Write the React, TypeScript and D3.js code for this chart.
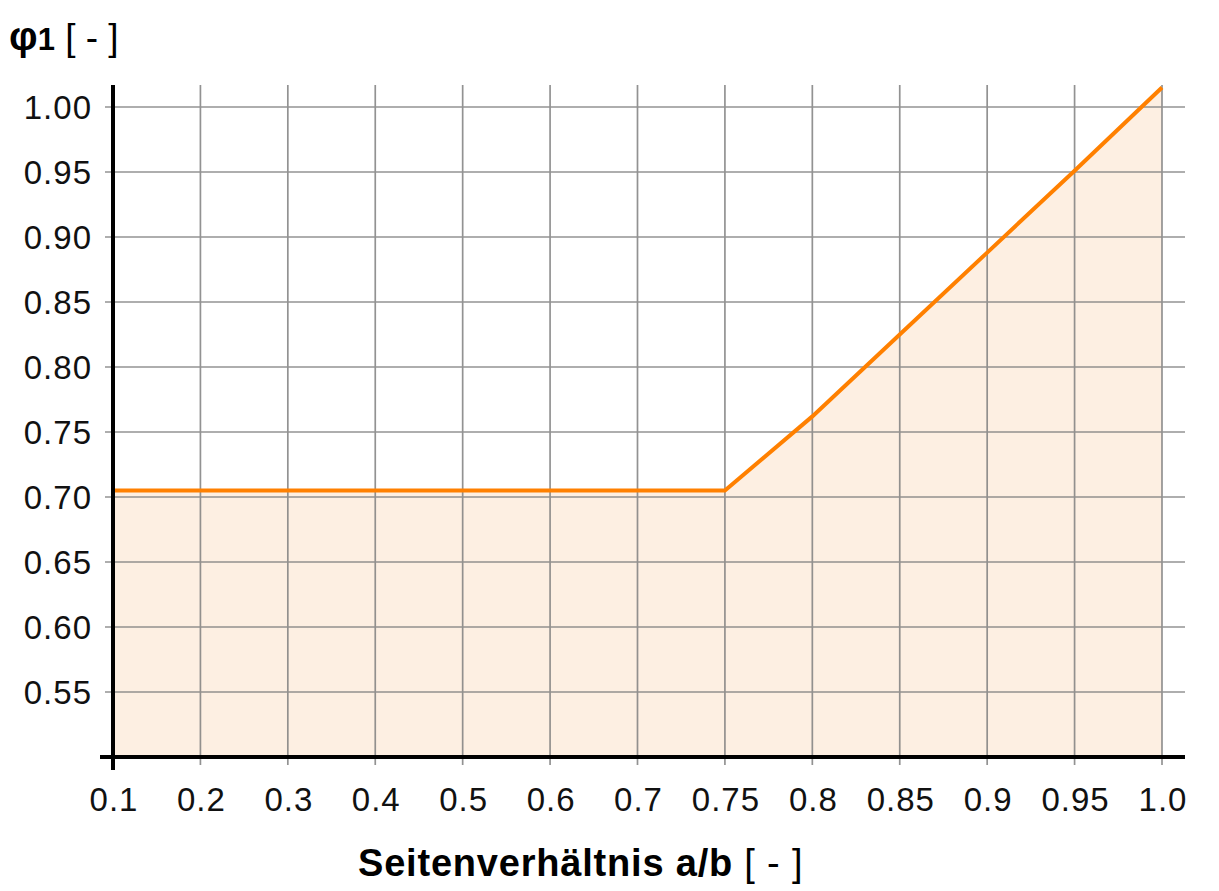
import { useEffect, useRef } from 'react';
import * as d3 from 'd3';

const categories = ['0.1', '0.2', '0.3', '0.4', '0.5', '0.6', '0.7', '0.75', '0.8', '0.85', '0.9', '0.95', '1.0'];
const phiValues = [0.705, 0.705, 0.705, 0.705, 0.705, 0.705, 0.705, 0.705, 0.762, 0.825, 0.888, 0.951, 1.015];
const yTicks = [0.55, 0.6, 0.65, 0.7, 0.75, 0.8, 0.85, 0.9, 0.95, 1.0];

const FONT = '"Liberation Sans", Arial, sans-serif';

export default function App() {
  const svgRef = useRef<SVGSVGElement>(null);

  useEffect(() => {
    if (!svgRef.current) return;
    const svg = d3.select(svgRef.current);
    svg.selectAll('*').remove();

    const left = 113;
    const right = 1162;
    const bottom = 757;

    const x = d3.scalePoint<string>().domain(categories).range([left, right]);
    const y = d3.scaleLinear().domain([0.5, 1.0]).range([bottom, 107]);
    const gridTop = y(1.017);

    const data = categories.map((c, i) => ({ c, v: phiValues[i] }));

    // area fill
    const area = d3
      .area<{ c: string; v: number }>()
      .x((d) => x(d.c) as number)
      .y0(bottom)
      .y1((d) => y(d.v));
    svg.append('path').datum(data).attr('d', area).attr('fill', '#fdefe2');

    // grid
    const grid = svg.append('g').attr('stroke', '#808080').attr('stroke-width', 1.7).attr('opacity', 0.85);
    grid
      .selectAll('line.h')
      .data(yTicks)
      .enter()
      .append('line')
      .attr('x1', 105)
      .attr('x2', 1185)
      .attr('y1', (d) => y(d))
      .attr('y2', (d) => y(d));
    grid
      .selectAll('line.v')
      .data(categories)
      .enter()
      .append('line')
      .attr('x1', (d) => x(d) as number)
      .attr('x2', (d) => x(d) as number)
      .attr('y1', gridTop)
      .attr('y2', 765);

    // line
    const line = d3
      .line<{ c: string; v: number }>()
      .x((d) => x(d.c) as number)
      .y((d) => y(d.v));
    svg
      .append('path')
      .datum(data)
      .attr('d', line)
      .attr('fill', 'none')
      .attr('stroke', '#ff8000')
      .attr('stroke-width', 4);

    // axes
    svg.append('line').attr('x1', 100).attr('x2', 1185).attr('y1', bottom).attr('y2', bottom).attr('stroke', '#000').attr('stroke-width', 4);
    svg.append('line').attr('x1', left).attr('x2', left).attr('y1', gridTop).attr('y2', 770).attr('stroke', '#000').attr('stroke-width', 4);

    // tick labels
    svg
      .selectAll('text.yl')
      .data(yTicks)
      .enter()
      .append('text')
      .attr('x', 92)
      .attr('y', (d) => y(d))
      .attr('dy', '0.36em')
      .attr('text-anchor', 'end')
      .attr('font-family', FONT)
      .attr('font-size', 33)
      .attr('letter-spacing', 1)
      .attr('fill', '#111')
      .text((d) => d.toFixed(2));

    svg
      .selectAll('text.xl')
      .data(categories)
      .enter()
      .append('text')
      .attr('x', (d) => (x(d) as number) + 1)
      .attr('y', 811)
      .attr('text-anchor', 'middle')
      .attr('font-family', FONT)
      .attr('font-size', 33)
      .attr('letter-spacing', 1)
      .attr('fill', '#111')
      .text((d) => d);

    // y title
    const yt = svg.append('text').attr('x', 9).attr('y', 50).attr('font-family', FONT).attr('font-size', 37).attr('fill', '#000');
    yt.append('tspan').attr('font-weight', 'bold').attr('font-size', 40).text('φ');
    yt.append('tspan').attr('font-weight', 'bold').attr('font-size', 31).text('1');
    yt.append('tspan').text(' [ - ]');

    // x title
    const xt = svg
      .append('text')
      .attr('x', 358)
      .attr('y', 876)
      .attr('font-family', FONT)
      .attr('font-size', 38)
      .attr('letter-spacing', 0.8)
      .attr('fill', '#000');
    xt.append('tspan').attr('font-weight', 'bold').text('Seitenverhältnis a/b');
    xt.append('tspan').text(' [ - ]');
  }, []);

  return (
    <svg
      ref={svgRef}
      width={1219}
      height={891}
      style={{ position: 'absolute', left: 0, top: 0, background: '#fff' }}
    />
  );
}
